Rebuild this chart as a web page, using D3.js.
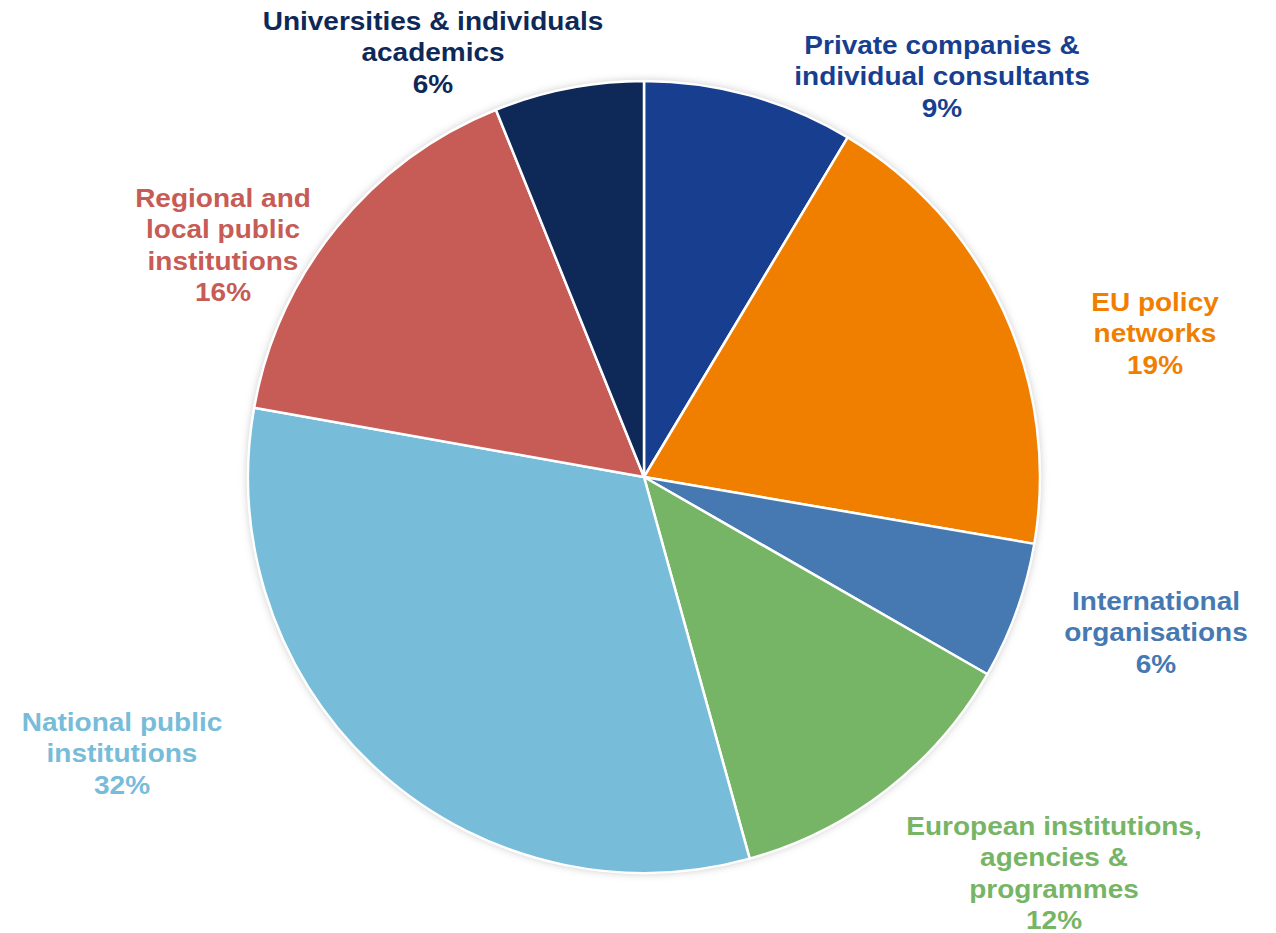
<!DOCTYPE html>
<html lang="en">
<head>
    <meta charset="UTF-8">
    <title>Stakeholder types</title>
    <style>
        body { margin: 0; background: #fff; }
        .label {
            font-family: "Liberation Sans", Arial, sans-serif;
            font-weight: bold;
            font-size: 25px;
            text-anchor: middle;
        }
    </style>
</head>
<body>
    <svg width="1276" height="933"></svg>

    <script src="https://d3js.org/d3.v7.min.js"></script>
    <script>
        // Data (clockwise from 12 o'clock)
        const categories = [
            "Private companies & individual consultants",
            "EU policy networks",
            "International organisations",
            "European institutions, agencies & programmes",
            "National public institutions",
            "Regional and local public institutions",
            "Universities & individuals academics"
        ];
        const shares = [8.6, 19.1, 5.6, 12.4, 32.1, 16.1, 6.1];
        const shownPct = ["9%", "19%", "6%", "12%", "32%", "16%", "6%"];
        const colors = ["#183f8f", "#f07f00", "#4679b2", "#77b566", "#77bcd9", "#c75b55", "#0e2858"];

        // label lines as in the original wrap
        const labelLines = [
            ["Private companies &", "individual consultants"],
            ["EU policy", "networks"],
            ["International", "organisations"],
            ["European institutions,", "agencies &", "programmes"],
            ["National public", "institutions"],
            ["Regional and", "local public", "institutions"],
            ["Universities & individuals", "academics"]
        ];
        // label centre of first line, relative to pie centre
        const labelPos = [
            [298, -432], [511, -175], [512, 124], [410, 349], [-522, 245], [-421, -279], [-211, -456]
        ];

        const svg = d3.select("svg");
        const cx = 644, cy = 477, r = 396;
        const g = svg.append("g").attr("transform", `translate(${cx},${cy})`);

        const defs = svg.append("defs");
        const f = defs.append("filter").attr("id", "shadow")
            .attr("x", "-10%").attr("y", "-10%").attr("width", "120%").attr("height", "120%");
        f.append("feDropShadow").attr("dx", 0).attr("dy", 0).attr("stdDeviation", 4)
            .attr("flood-color", "#000").attr("flood-opacity", 0.25);

        const pie = d3.pie().sort(null).value(d => d);
        const arc = d3.arc().innerRadius(0).outerRadius(r);
        const arcs = pie(shares);

        // shadow disc behind
        g.append("circle").attr("r", r).attr("fill", "#fff").attr("filter", "url(#shadow)");

        g.selectAll(".slice")
            .data(arcs)
            .enter().append("path")
            .attr("class", "slice")
            .attr("d", arc)
            .attr("fill", (d, i) => colors[i])
            .attr("stroke", "#fff")
            .attr("stroke-width", 2.5)
            .attr("stroke-linejoin", "round");

        const lineH = 31.5;
        const lbl = g.selectAll(".label")
            .data(arcs)
            .enter().append("text")
            .attr("class", "label")
            .attr("fill", (d, i) => colors[i])
            .attr("transform", (d, i) => `translate(${labelPos[i][0]},${labelPos[i][1]}) scale(1.12,1)`);

        lbl.each(function (d, i) {
            const t = d3.select(this);
            const lines = labelLines[i].concat([shownPct[i]]);
            lines.forEach((s, k) => {
                t.append("tspan")
                    .attr("x", 0)
                    .attr("y", k * lineH)
                    .attr("dy", "0.35em")
                    .text(s);
            });
        });
    </script>
</body>
</html>
